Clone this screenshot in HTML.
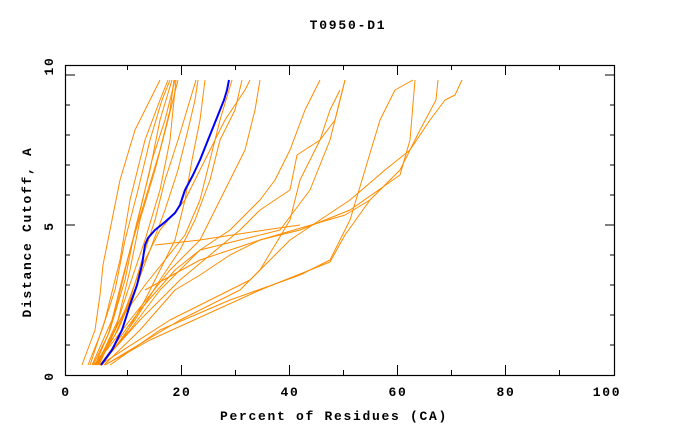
<!DOCTYPE html>
<html><head><meta charset="utf-8"><style>
html,body{margin:0;padding:0;background:#fff;}
svg{display:block;font-family:"Liberation Mono","DejaVu Sans Mono",monospace;font-weight:bold;}
</style></head><body>
<svg width="680" height="440" xmlns="http://www.w3.org/2000/svg">
<rect width="680" height="440" fill="#fff"/>
<text x="348" y="29" text-anchor="middle" font-size="13" letter-spacing="1.8">T0950-D1</text>
<g fill="none" stroke="#ff8c00" stroke-width="1" stroke-linejoin="round">
<polyline points="82,365 95,330 100,295 103,265 110,230 120,180 135,130 150,100 160,80"/>
<polyline points="90,365 105,320 120,260 130,200 145,140 160,100 168,80"/>
<polyline points="95,365 110,330 125,280 135,230 150,170 160,120 172,80"/>
<polyline points="92,365 112,320 122,280 138,220 152,160 165,120 175,80"/>
<polyline points="97,365 118,320 130,270 140,220 155,170 168,120 178,80"/>
<polyline points="93,365 108,335 118,300 130,250 145,200 160,150 170,110 174,80"/>
<polyline points="99,365 115,330 128,290 145,240 160,190 170,140 176,80"/>
<polyline points="88,365 102,330 115,290 125,240 138,190 150,140 162,100 170,80"/>
<polyline points="100,365 140,310 175,270 200,250 240,240 280,230 310,190 330,140 345,80"/>
<polyline points="110,365 160,330 230,300 300,275 330,260 350,220 365,170 380,120 395,90 413,80"/>
<polyline points="105,365 150,340 260,290 330,262 345,235 370,200 400,170 420,130 436,100 438,80"/>
<polyline points="100,365 170,320 250,280 290,240 350,200 385,170 410,150 430,120 445,100 455,95 462,80"/>
<polyline points="105,365 180,320 240,290 260,270 290,220 300,180 310,160 320,140 335,120 345,80"/>
<polyline points="100,365 140,320 180,280 240,230 260,210 290,190 297,155 320,140 330,110 340,90"/>
<polyline points="100,365 130,330 160,290 200,250 230,230 260,200 275,180 290,150 305,110 320,80"/>
<polyline points="95,365 130,320 170,270 200,240 215,210 230,180 245,150 255,110 260,80"/>
<polyline points="98,365 125,310 140,270 160,230 185,200 205,160 225,120 245,90 250,80"/>
<polyline points="102,365 135,320 160,280 180,250 195,220 210,180 220,140 235,110 242,80"/>
<polyline points="96,365 120,320 145,285 165,260 185,235 200,200 210,160 220,120 232,80"/>
<polyline points="104,365 140,330 175,290 200,275 230,255 260,240 300,230 350,210 400,175 410,140 415,80"/>
<polyline points="145,290 200,260 260,240 345,215 370,200"/>
<polyline points="155,245 200,240 265,230 300,225"/>
<polyline points="100,365 125,335 145,300 160,270 175,240 185,200 192,160 200,120 205,80"/>
<polyline points="97,365 118,330 135,290 150,250 165,210 178,170 188,130 195,100 198,80"/>
<polyline points="94,365 115,335 130,300 142,260 155,220 165,180 178,140 190,100 196,80"/>
</g>
<polyline fill="none" stroke="#0000ff" stroke-width="2" stroke-linejoin="round" points="101,365 112,350 122,330 130,305 137,285 142,265 145,245 148,238 155,230 165,222 175,213 180,205 185,190 193,175 200,160 206,145 212,130 218,115 224,100 227,90 229,80"/>
<g stroke="#000" stroke-width="1.2" fill="none">
<rect x="65.5" y="65.5" width="549" height="310"/>
</g>
<g stroke="#000" stroke-width="1">
<line x1="65" y1="75" x2="75" y2="75"/><line x1="65" y1="225" x2="75" y2="225"/>
<line x1="605" y1="75" x2="615" y2="75"/><line x1="605" y1="225" x2="615" y2="225"/>
<line x1="65" y1="105" x2="70" y2="105"/><line x1="65" y1="135" x2="70" y2="135"/><line x1="65" y1="165" x2="70" y2="165"/><line x1="65" y1="195" x2="70" y2="195"/><line x1="65" y1="255" x2="70" y2="255"/><line x1="65" y1="285" x2="70" y2="285"/><line x1="65" y1="315" x2="70" y2="315"/><line x1="65" y1="345" x2="70" y2="345"/>
<line x1="610" y1="105" x2="615" y2="105"/><line x1="610" y1="135" x2="615" y2="135"/><line x1="610" y1="165" x2="615" y2="165"/><line x1="610" y1="195" x2="615" y2="195"/><line x1="610" y1="255" x2="615" y2="255"/><line x1="610" y1="285" x2="615" y2="285"/><line x1="610" y1="315" x2="615" y2="315"/><line x1="610" y1="345" x2="615" y2="345"/>
<line x1="181.5" y1="375" x2="181.5" y2="365"/><line x1="289.5" y1="375" x2="289.5" y2="365"/><line x1="397.5" y1="375" x2="397.5" y2="365"/><line x1="505.5" y1="375" x2="505.5" y2="365"/>
<line x1="127.5" y1="375" x2="127.5" y2="370"/><line x1="235.5" y1="375" x2="235.5" y2="370"/><line x1="343.5" y1="375" x2="343.5" y2="370"/><line x1="451.5" y1="375" x2="451.5" y2="370"/><line x1="559.5" y1="375" x2="559.5" y2="370"/>
<line x1="181.5" y1="65" x2="181.5" y2="75"/><line x1="289.5" y1="65" x2="289.5" y2="75"/><line x1="397.5" y1="65" x2="397.5" y2="75"/><line x1="505.5" y1="65" x2="505.5" y2="75"/>
<line x1="127.5" y1="65" x2="127.5" y2="70"/><line x1="235.5" y1="65" x2="235.5" y2="70"/><line x1="343.5" y1="65" x2="343.5" y2="70"/><line x1="451.5" y1="65" x2="451.5" y2="70"/><line x1="559.5" y1="65" x2="559.5" y2="70"/>
</g>
<g font-size="13" text-anchor="middle" letter-spacing="1.7">
<text x="66" y="396">0</text><text x="182" y="396">20</text><text x="290" y="396">40</text><text x="398" y="396">60</text><text x="506" y="396">80</text><text x="607" y="396">100</text>
<text x="334" y="420">Percent of Residues (CA)</text>
<text transform="translate(53,376) rotate(-90)">0</text>
<text transform="translate(53,226) rotate(-90)">5</text>
<text transform="translate(53,66) rotate(-90)">10</text>
<text transform="translate(31,232) rotate(-90)">Distance Cutoff, A</text>
</g>
</svg>
</body></html>
